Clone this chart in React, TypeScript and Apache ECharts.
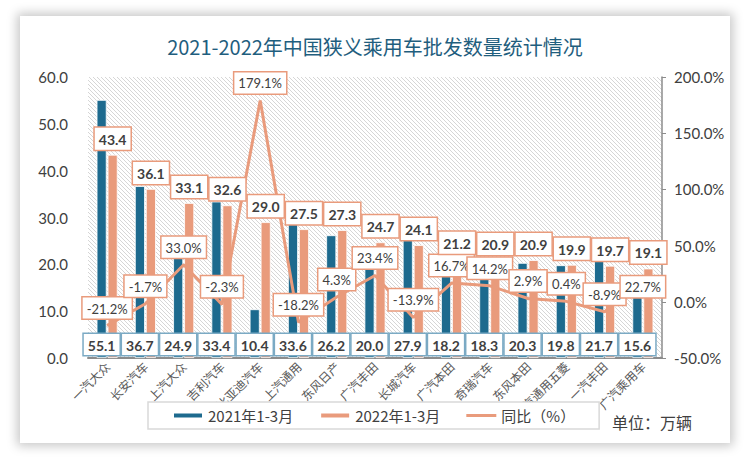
import React, { useEffect, useRef } from "react";
import * as echarts from "echarts";

const categories = ["一汽大众", "长安汽车", "上汽大众", "吉利汽车", "比亚迪汽车", "上汽通用", "东风日产", "广汽丰田", "长城汽车", "广汽本田", "奇瑞汽车", "东风本田", "上汽通用五菱", "一汽丰田", "广汽乘用车"];
const sales2021 = [55.1, 36.7, 24.9, 33.4, 10.4, 33.6, 26.2, 20.0, 27.9, 18.2, 18.3, 20.3, 19.8, 21.7, 15.6];
const sales2022 = [43.4, 36.1, 33.1, 32.6, 29.0, 27.5, 27.3, 24.7, 24.1, 21.2, 20.9, 20.9, 19.9, 19.7, 19.1];
const yoy = [-21.2, -1.7, 33.0, -2.3, 179.1, -18.2, 4.3, 23.4, -13.9, 16.7, 14.2, 2.9, 0.4, -8.9, 22.7];
const leftTicks = { min: 0, max: 60, interval: 10 };
const rightTicks = { min: -50, max: 200, interval: 50 };

const BLUE = "#1D6A8E";
const ORANGE = "#E99B7C";
const TXT = "#404040";

function makeHatch() {
  const s = 4;
  const c = document.createElement("canvas");
  c.width = s;
  c.height = s;
  const ctx = c.getContext("2d")!;
  ctx.fillStyle = "#ffffff";
  ctx.fillRect(0, 0, s, s);
  ctx.strokeStyle = "#d6d6d6";
  ctx.lineWidth = 1;
  ctx.beginPath();
  ctx.moveTo(-1, -1);
  ctx.lineTo(s + 1, s + 1);
  ctx.moveTo(-1, s - 1);
  ctx.lineTo(1, s + 1);
  ctx.moveTo(s - 1, -1);
  ctx.lineTo(s + 1, 1);
  ctx.stroke();
  return { image: c, repeat: "repeat", imageWidth: s, imageHeight: s } as any;
}

const boxLabel = {
  fontFamily: "Lato",
  color: TXT,
  backgroundColor: "#ffffff",
  borderWidth: 1.5,
  padding: [3, 4, 2, 4],
};

export default function App() {
  const ref = useRef<HTMLDivElement>(null);
  useEffect(() => {
    const chart = echarts.init(ref.current!, null, { renderer: "svg" });
    const lastIdx = yoy.length - 1;
    chart.setOption({
      animation: false,
      title: {
        text: "2021-2022年中国狭义乘用车批发数量统计情况",
        left: "center",
        top: 31,
        textStyle: { fontSize: 20, fontWeight: "normal", color: "#1F5E7E", fontFamily: "Noto Sans CJK SC" },
      },
      grid: { left: 88, right: 88, top: 77, bottom: 103, show: true, backgroundColor: makeHatch(), borderWidth: 0 },
      legend: {
        left: 148,
        top: 402,
        padding: [6, 24, 6, 24],
        backgroundColor: "#ffffff",
        borderColor: "#d9d9d9",
        borderWidth: 1.5,
        itemWidth: 30,
        itemHeight: 6,
        itemGap: 26,
        symbolKeepAspect: true,
        textStyle: { fontSize: 15, color: TXT, fontFamily: "Noto Sans CJK SC" },
        data: [
          { name: "2021年1-3月", icon: "rect" },
          { name: "2022年1-3月", icon: "rect" },
          { name: "同比（%）", icon: "path://M0,0H30V3H0Z", itemStyle: { color: ORANGE } },
        ],
      },
      graphic: [
        {
          type: "text",
          left: 612,
          top: 414,
          style: { text: "单位：万辆", fontSize: 16, fill: TXT, fontFamily: "Noto Sans CJK SC" },
        },
      ],
      xAxis: {
        type: "category",
        data: categories,
        axisLine: { lineStyle: { color: "#8c8c8c", width: 2 } },
        axisTick: { show: false },
        axisLabel: { interval: 0, rotate: 45, margin: 6, fontSize: 12, color: "#595959", fontFamily: "Noto Sans CJK SC" },
      },
      yAxis: [
        {
          type: "value",
          ...leftTicks,
          axisLine: { show: false },
          axisTick: { show: false },
          splitLine: { show: false },
          axisLabel: { margin: 20, fontSize: 15, color: TXT, fontFamily: "Lato", formatter: (v: number) => v.toFixed(1) },
        },
        {
          type: "value",
          ...rightTicks,
          position: "right",
          axisLine: { show: true, lineStyle: { color: "#8c8c8c", width: 1.5 } },
          axisTick: { show: true, length: 4, lineStyle: { color: "#8c8c8c" } },
          splitLine: { show: false },
          axisLabel: { margin: 12, fontSize: 15, color: TXT, fontFamily: "Lato", formatter: (v: number) => v.toFixed(1) + "%" },
        },
      ],
      series: [
        {
          name: "2021年1-3月",
          type: "bar",
          data: sales2021,
          barWidth: 10,
          barGap: "10%",
          z: 2,
          itemStyle: { color: BLUE, borderColor: "#ffffff", borderWidth: 0.8 },
          label: {
            ...boxLabel,
            show: true,
            position: "insideBottom",
            distance: 3,
            formatter: (p: any) => Number(p.value).toFixed(1),
            fontWeight: "bold",
            fontSize: 14,
            borderColor: "#7BAAC4",
            lineHeight: 16,
          },
        },
        {
          name: "2022年1-3月",
          type: "bar",
          data: sales2022,
          barWidth: 10,
          z: 2,
          itemStyle: { color: ORANGE, borderColor: "#ffffff", borderWidth: 0.8 },
        },
        {
          name: "同比（%）",
          type: "line",
          yAxisIndex: 1,
          z: 3,
          data: yoy.map((v, i) =>
            i === lastIdx ? { value: v, label: { position: "bottom", distance: 0 } } : v
          ),
          symbol: "circle",
          symbolSize: 0.1,
          showSymbol: true,
          lineStyle: { color: ORANGE, width: 3 },
          itemStyle: { color: ORANGE },
          label: {
            ...boxLabel,
            show: true,
            position: "top",
            distance: 7,
            formatter: (p: any) => Number(p.value).toFixed(1) + "%",
            fontSize: 13,
            borderColor: ORANGE,
            lineHeight: 16,
          },
        },
        {
          name: "2022标签",
          type: "line",
          z: 5,
          data: sales2022,
          symbol: "circle",
          symbolSize: 0.1,
          showSymbol: true,
          lineStyle: { width: 0, color: "rgba(0,0,0,0)" },
          itemStyle: { color: "rgba(0,0,0,0)", borderWidth: 0 },
          silent: true,
          label: {
            ...boxLabel,
            show: true,
            position: "top",
            distance: 5,
            offset: [5.5, 0],
            formatter: (p: any) => Number(p.value).toFixed(1),
            fontWeight: "bold",
            fontSize: 14,
            borderColor: ORANGE,
            lineHeight: 17,
          },
        },
      ],
    });
    return () => chart.dispose();
  }, []);

  return (
    <div style={{ position: "fixed", left: 0, top: 0, width: 750, height: 461, background: "#ffffff", overflow: "hidden" }}>
      <div
        style={{
          position: "absolute",
          left: 20,
          top: 16,
          width: 710,
          height: 427,
          background: "#ffffff",
          boxShadow: "0 0 10px 3px rgba(0,0,0,0.22)",
        }}
      />
      <div ref={ref} style={{ position: "absolute", left: 0, top: 0, width: 750, height: 461 }} />
    </div>
  );
}
